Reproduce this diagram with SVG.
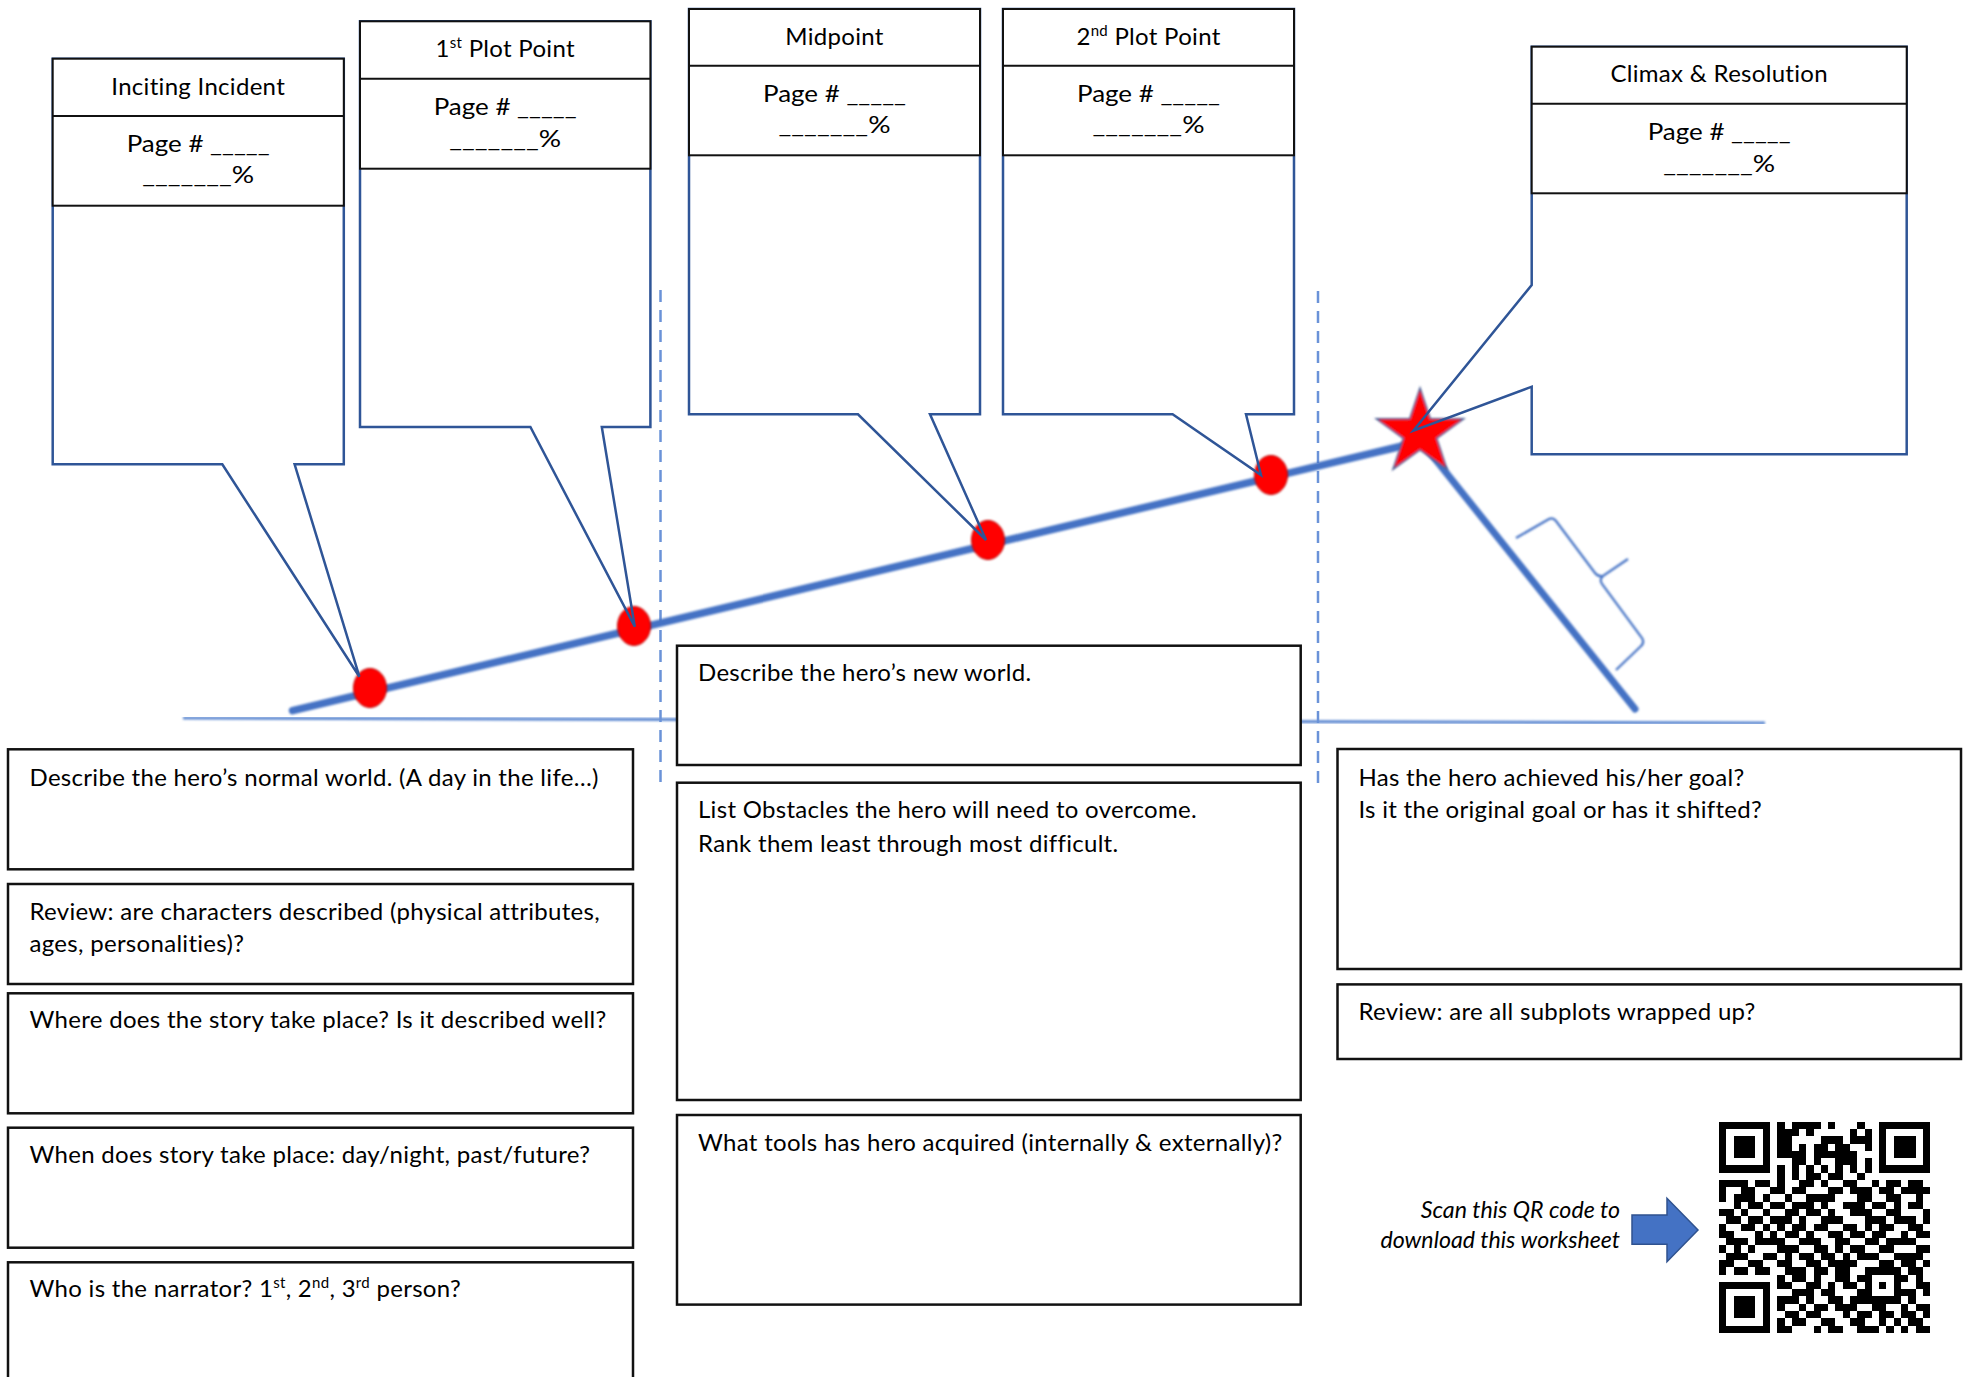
<svg xmlns="http://www.w3.org/2000/svg" width="1969" height="1377" viewBox="0 0 1969 1377">
<defs>
<style>
.co{fill:none;stroke:#2F5597;stroke-width:2.5;stroke-linejoin:miter}
.hd{fill:#fff;stroke:#111;stroke-width:2}
.hl{stroke:#111;stroke-width:2}
.bx{fill:#fff;stroke:#111;stroke-width:2.5}
.t{font-family:Lato,"Liberation Sans",sans-serif;font-size:24px;letter-spacing:0.3px;fill:#000}
.tc{text-anchor:middle}
.pg{letter-spacing:0}
.it{font-style:italic;text-anchor:end;font-size:23.2px;letter-spacing:0}
.sup{font-size:15px}
.dot{fill:#FF0000;stroke:#B00000;stroke-width:1}
</style>
<filter id="soft" x="-10%" y="-10%" width="120%" height="120%"><feGaussianBlur stdDeviation="0.8"/></filter>
</defs>
<rect width="1969" height="1377" fill="#fff"/>

<g id="connectors">
<line x1="183" y1="718" x2="1765" y2="723" stroke="#5B87D0" stroke-width="3" filter="url(#soft)"/>
<line x1="660.5" y1="290" x2="660.5" y2="783" stroke="#6A92D8" stroke-width="2.5" stroke-dasharray="12 8"/>
<line x1="1318" y1="291" x2="1318" y2="784" stroke="#6A92D8" stroke-width="2.5" stroke-dasharray="12 8"/>
<line x1="292.6" y1="710.7" x2="1419" y2="442" stroke="#4472C4" stroke-width="7.5" stroke-linecap="round" filter="url(#soft)"/>
<line x1="1420" y1="440" x2="1635" y2="709" stroke="#4472C4" stroke-width="7" stroke-linecap="round" filter="url(#soft)"/>
<path d="M1516,538 L1549,519 Q1553,517 1556,521 L1595,573 Q1598,577 1603,576 L1628,559 M1603,576 Q1599,579 1602,584 L1642,638 Q1645,643 1640,647 L1616,670" fill="none" stroke="#4472C4" stroke-width="2.2" filter="url(#soft)"/>
</g>

<g id="markers" filter="url(#soft)">
<ellipse class="dot" cx="370" cy="688" rx="16.5" ry="19.5"/>
<ellipse class="dot" cx="634" cy="626" rx="16.5" ry="19.5"/>
<ellipse class="dot" cx="988" cy="540" rx="16.5" ry="19.5"/>
<ellipse class="dot" cx="1271" cy="475" rx="16.5" ry="19.5"/>
<polygon points="1420,388 1430.3,418.8 1463.7,418.8 1436.7,438.3 1447,469.2 1420,450 1393,469.2 1403.3,438.3 1376.3,418.8 1409.7,418.8" fill="#FF0000" stroke="#4A5F94" stroke-width="1.5"/>
</g>

<g id="inciting-incident">
<rect x="52.7" y="58.7" width="291.1" height="405.6" fill="#fff"/>
<path class="co" d="M52.7,58.7H343.8V464.3H294.6L359.4,676.7L222.3,464.3H52.7Z"/>
<rect class="hd" x="52.7" y="58.7" width="291.1" height="147"/>
<line class="hl" x1="52.7" y1="116" x2="343.8" y2="116"/>
<text class="t tc" x="198.2" y="95">Inciting Incident</text>
<text class="t tc pg" x="198.2" y="151.7" textLength="143" lengthAdjust="spacingAndGlyphs">Page # _____</text>
<text class="t tc pg" x="198.2" y="183.3" textLength="112" lengthAdjust="spacingAndGlyphs">_______%</text>
</g>

<g id="first-plot-point">
<rect x="360" y="21.3" width="290.4" height="405.7" fill="#fff"/>
<path class="co" d="M360,21.3H650.4V427H601.8L634.8,626.7L530.4,427H360Z"/>
<rect class="hd" x="360" y="21.3" width="290.4" height="147.4"/>
<line class="hl" x1="360" y1="78.7" x2="650.4" y2="78.7"/>
<text class="t tc" x="505.2" y="56.7">1<tspan class="sup" dy="-9">st</tspan><tspan dy="9"> Plot Point</tspan></text>
<text class="t tc pg" x="505.2" y="115" textLength="143" lengthAdjust="spacingAndGlyphs">Page # _____</text>
<text class="t tc pg" x="505.2" y="146.6" textLength="112" lengthAdjust="spacingAndGlyphs">_______%</text>
</g>

<g id="midpoint">
<rect x="689" y="9" width="291" height="405.3" fill="#fff"/>
<path class="co" d="M689,9H980V414.3H930L986,540L858,414.3H689Z"/>
<rect class="hd" x="689" y="9" width="291" height="146.3"/>
<line class="hl" x1="689" y1="65.7" x2="980" y2="65.7"/>
<text class="t tc" x="834.5" y="45">Midpoint</text>
<text class="t tc pg" x="834.5" y="101.7" textLength="143" lengthAdjust="spacingAndGlyphs">Page # _____</text>
<text class="t tc pg" x="834.5" y="133.3" textLength="112" lengthAdjust="spacingAndGlyphs">_______%</text>
</g>

<g id="second-plot-point">
<rect x="1003" y="9" width="291" height="405.3" fill="#fff"/>
<path class="co" d="M1003,9H1294V414.3H1246L1261,475L1172.6,414.3H1003Z"/>
<rect class="hd" x="1003" y="9" width="291" height="146.3"/>
<line class="hl" x1="1003" y1="65.7" x2="1294" y2="65.7"/>
<text class="t tc" x="1148.5" y="45">2<tspan class="sup" dy="-9">nd</tspan><tspan dy="9"> Plot Point</tspan></text>
<text class="t tc pg" x="1148.5" y="101.7" textLength="143" lengthAdjust="spacingAndGlyphs">Page # _____</text>
<text class="t tc pg" x="1148.5" y="133.3" textLength="112" lengthAdjust="spacingAndGlyphs">_______%</text>
</g>

<g id="climax-resolution">
<rect x="1531.7" y="46.7" width="375" height="407.6" fill="#fff"/>
<path class="co" d="M1531.7,46.7H1906.7V454.3H1531.7V386.7L1413.3,430.7L1531.7,285Z"/>
<rect class="hd" x="1531.7" y="46.7" width="375" height="146.6"/>
<line class="hl" x1="1531.7" y1="103.7" x2="1906.7" y2="103.7"/>
<text class="t tc" x="1719.2" y="81.7">Climax &amp; Resolution</text>
<text class="t tc pg" x="1719.2" y="140" textLength="143" lengthAdjust="spacingAndGlyphs">Page # _____</text>
<text class="t tc pg" x="1719.2" y="171.7" textLength="112" lengthAdjust="spacingAndGlyphs">_______%</text>
</g>

<g id="normal-world">
<rect class="bx" x="8" y="749.3" width="625" height="120"/>
<text class="t" x="29.5" y="786">Describe the hero’s normal world. (A day in the life…)</text>
</g>
<g id="review-characters">
<rect class="bx" x="8" y="884" width="625" height="100"/>
<text class="t" x="29.5" y="920">Review: are characters described (physical attributes,</text>
<text class="t" x="29.5" y="951.7">ages, personalities)?</text>
</g>
<g id="where-story">
<rect class="bx" x="8" y="993.3" width="625" height="120"/>
<text class="t" x="29.5" y="1028.3">Where does the story take place? Is it described well?</text>
</g>
<g id="when-story">
<rect class="bx" x="8" y="1127.7" width="625" height="120"/>
<text class="t" x="29.5" y="1163.3">When does story take place: day/night, past/future?</text>
</g>
<g id="narrator">
<rect class="bx" x="8" y="1262.3" width="625" height="130"/>
<text class="t" x="29.5" y="1296.7">Who is the narrator? 1<tspan class="sup" dy="-9">st</tspan><tspan dy="9">, 2</tspan><tspan class="sup" dy="-9">nd</tspan><tspan dy="9">, 3</tspan><tspan class="sup" dy="-9">rd</tspan><tspan dy="9"> person?</tspan></text>
</g>

<g id="new-world">
<rect class="bx" x="677" y="645.7" width="623.7" height="119.3"/>
<text class="t" x="698" y="680.7">Describe the hero’s new world.</text>
</g>
<g id="obstacles">
<rect class="bx" x="677" y="782.7" width="623.7" height="317.3"/>
<text class="t" x="698" y="818.3">List Obstacles the hero will need to overcome.</text>
<text class="t" x="698" y="851.7">Rank them least through most difficult.</text>
</g>
<g id="tools">
<rect class="bx" x="677" y="1115" width="623.7" height="189.6"/>
<text class="t" x="698" y="1151">What tools has hero acquired (internally &amp; externally)?</text>
</g>

<g id="goal">
<rect class="bx" x="1337.5" y="749" width="623.5" height="220"/>
<text class="t" x="1358.4" y="786">Has the hero achieved his/her goal?</text>
<text class="t" x="1358.4" y="817.5">Is it the original goal or has it shifted?</text>
</g>
<g id="subplots">
<rect class="bx" x="1337.5" y="984.4" width="623.5" height="74.6"/>
<text class="t" x="1358.4" y="1019.6">Review: are all subplots wrapped up?</text>
</g>

<g id="qr-note">
<text class="t it" x="1620" y="1217.7">Scan this QR code to</text>
<text class="t it" x="1620" y="1248.3">download this worksheet</text>
<polygon points="1632,1215 1667,1215 1667,1198.3 1698,1230 1667,1261.7 1667,1244.3 1632,1244.3" fill="#4472C4" stroke="#2F528F" stroke-width="1.5"/>
</g>

<g id="qr-code" transform="translate(1719,1121.7) scale(7.28)" fill="#000" shape-rendering="crispEdges">
<path fill-rule="evenodd" d="M0 0h7v7h-7z M1 1v5h5v-5z M2 2h3v3h-3z M22 0h7v7h-7z M23 1v5h5v-5z M24 2h3v3h-3z M0 22h7v7h-7z M1 23v5h5v-5z M2 24h3v3h-3z"/>
<path d="M8 0h1v1h-1zM10 0h4v1h-4zM15 0h1v1h-1zM19 0h1v1h-1z
M8 1h3v1h-3zM12 1h1v1h-1zM18 1h1v1h-1zM20 1h1v1h-1z
M8 2h2v1h-2zM14 2h3v1h-3zM18 2h3v1h-3z
M8 3h2v1h-2zM11 3h1v1h-1zM13 3h2v1h-2zM16 3h2v1h-2zM20 3h1v1h-1z
M8 4h4v1h-4zM13 4h6v1h-6z
M10 5h2v1h-2zM13 5h1v1h-1zM16 5h3v1h-3zM20 5h1v1h-1z
M8 6h1v1h-1zM10 6h1v1h-1zM12 6h1v1h-1zM14 6h1v1h-1zM16 6h1v1h-1zM18 6h1v1h-1zM20 6h1v1h-1z
M8 7h1v1h-1zM10 7h1v1h-1zM12 7h2v1h-2zM15 7h2v1h-2zM19 7h1v1h-1z
M0 8h4v1h-4zM5 8h2v1h-2zM8 8h1v1h-1zM11 8h2v1h-2zM14 8h1v1h-1zM17 8h2v1h-2zM21 8h1v1h-1zM23 8h2v1h-2zM26 8h2v1h-2z
M0 9h1v1h-1zM3 9h2v1h-2zM7 9h2v1h-2zM10 9h2v1h-2zM15 9h2v1h-2zM18 9h3v1h-3zM22 9h2v1h-2zM25 9h4v1h-4z
M0 10h1v1h-1zM2 10h3v1h-3zM6 10h1v1h-1zM9 10h1v1h-1zM12 10h4v1h-4zM19 10h2v1h-2zM23 10h2v1h-2zM27 10h1v1h-1z
M2 11h1v1h-1zM4 11h2v1h-2zM7 11h2v1h-2zM10 11h3v1h-3zM14 11h1v1h-1zM17 11h3v1h-3zM21 11h2v1h-2zM24 11h1v1h-1zM26 11h2v1h-2z
M0 12h2v1h-2zM3 12h1v1h-1zM6 12h1v1h-1zM9 12h2v1h-2zM12 12h2v1h-2zM15 12h1v1h-1zM18 12h3v1h-3zM23 12h2v1h-2zM28 12h1v1h-1z
M1 13h2v1h-2zM4 13h2v1h-2zM7 13h3v1h-3zM11 13h1v1h-1zM14 13h3v1h-3zM20 13h3v1h-3zM24 13h3v1h-3zM28 13h1v1h-1z
M0 14h1v1h-1zM3 14h2v1h-2zM6 14h1v1h-1zM8 14h1v1h-1zM10 14h2v1h-2zM13 14h2v1h-2zM17 14h2v1h-2zM20 14h1v1h-1zM22 14h2v1h-2zM26 14h2v1h-2z
M0 15h2v1h-2zM5 15h1v1h-1zM7 15h1v1h-1zM9 15h2v1h-2zM12 15h1v1h-1zM15 15h2v1h-2zM18 15h2v1h-2zM21 15h2v1h-2zM25 15h1v1h-1zM27 15h2v1h-2z
M1 16h3v1h-3zM5 16h4v1h-4zM11 16h3v1h-3zM16 16h2v1h-2zM20 16h2v1h-2zM23 16h4v1h-4z
M0 17h1v1h-1zM2 17h1v1h-1zM4 17h1v1h-1zM8 17h3v1h-3zM13 17h2v1h-2zM16 17h1v1h-1zM18 17h2v1h-2zM22 17h2v1h-2zM27 17h2v1h-2z
M1 18h3v1h-3zM6 18h2v1h-2zM9 18h1v1h-1zM11 18h2v1h-2zM14 18h2v1h-2zM17 18h1v1h-1zM19 18h3v1h-3zM24 18h4v1h-4z
M0 19h2v1h-2zM4 19h2v1h-2zM8 19h2v1h-2zM12 19h2v1h-2zM15 19h4v1h-4zM22 19h2v1h-2zM25 19h2v1h-2zM28 19h1v1h-1z
M0 20h1v1h-1zM2 20h2v1h-2zM5 20h2v1h-2zM9 20h3v1h-3zM13 20h2v1h-2zM16 20h2v1h-2zM20 20h5v1h-5zM26 20h2v1h-2z
M8 21h1v1h-1zM10 21h2v1h-2zM13 21h1v1h-1zM16 21h2v1h-2zM19 21h2v1h-2zM24 21h2v1h-2zM27 21h1v1h-1z
M8 22h2v1h-2zM12 22h2v1h-2zM15 22h1v1h-1zM17 22h2v1h-2zM20 22h1v1h-1zM22 22h1v1h-1zM24 22h1v1h-1zM27 22h2v1h-2z
M10 23h3v1h-3zM14 23h2v1h-2zM19 23h2v1h-2zM24 23h3v1h-3zM28 23h1v1h-1z
M8 24h3v1h-3zM12 24h1v1h-1zM15 24h2v1h-2zM18 24h7v1h-7zM26 24h1v1h-1z
M8 25h1v1h-1zM11 25h1v1h-1zM13 25h2v1h-2zM16 25h3v1h-3zM21 25h2v1h-2zM25 25h1v1h-1zM27 25h2v1h-2z
M9 26h2v1h-2zM12 26h2v1h-2zM17 26h1v1h-1zM19 26h2v1h-2zM22 26h2v1h-2zM25 26h2v1h-2zM28 26h1v1h-1z
M8 27h1v1h-1zM10 27h2v1h-2zM14 27h2v1h-2zM18 27h2v1h-2zM22 27h1v1h-1zM24 27h1v1h-1zM26 27h2v1h-2z
M8 28h2v1h-2zM13 28h1v1h-1zM15 28h2v1h-2zM19 28h3v1h-3zM23 28h1v1h-1zM25 28h1v1h-1zM27 28h2v1h-2z"/>
</g>
</svg>
